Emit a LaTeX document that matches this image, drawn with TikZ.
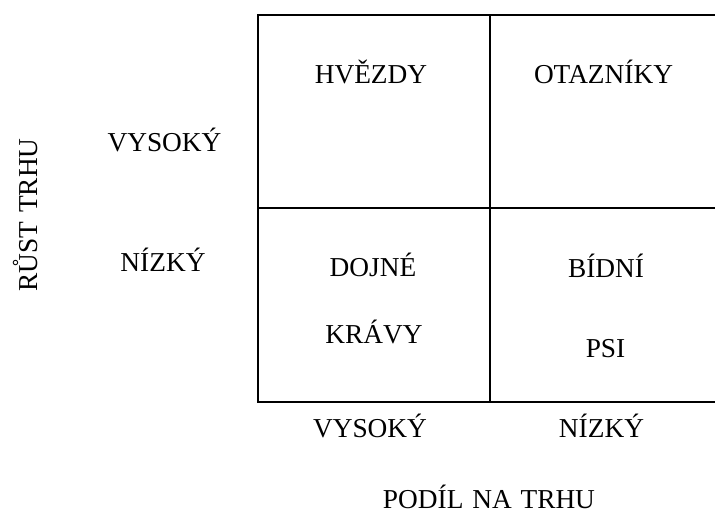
\documentclass[tikz,border=0pt]{standalone}
\usepackage{fontspec}
\setmainfont{Liberation Serif}
\begin{document}
\begin{tikzpicture}[x=0.75pt,y=-0.75pt,
  lbl/.style={anchor=base,inner sep=0pt,font=\fontsize{20.5}{24}\selectfont},
  gridline/.style={line width=1.5pt,line cap=rect}]
\useasboundingbox (0,0) rectangle (715,513);
\clip (0,0) rectangle (715,513);
% grid
\coordinate (tl) at (258.3,15.3);
\coordinate (tr) at (720,15.3);
\coordinate (bl) at (258.3,402);
\coordinate (br) at (720,402);
\coordinate (ml) at (258.3,208);
\coordinate (mr) at (720,208);
\coordinate (mt) at (490,15.3);
\coordinate (mb) at (490,402);
\draw[gridline] (tr) -- (tl) -- (bl) -- (br);
\draw[gridline] (ml) -- (mr);
\draw[gridline] (mt) -- (mb);
% quadrant labels
\node[lbl] (hv) at (371,84) {HVĚZDY};
\node[lbl] (ot) at (603.5,84) {OTAZNÍKY};
\node[lbl] (do) at (373,277) {DOJNÉ};
\node[lbl] (kr) at (374,344) {KRÁVY};
\node[lbl] (bi) at (606,278) {BÍDNÍ};
\node[lbl] (ps) at (605.5,358) {PSI};
% axis labels
\node[lbl] (vy) at (164.5,152) {VYSOKÝ};
\node[lbl] (ni) at (163,272) {NÍZKÝ};
\node[lbl] (vyb) at (370,438) {VYSOKÝ};
\node[lbl] (nib) at (601.5,438) {NÍZKÝ};
\node[lbl] (po) at (489,509) {PODÍL\hspace{1.5pt} NA\hspace{1.5pt} TRHU};
\node[lbl,rotate=90] (ru) at (37,215) {RŮST\hspace{1.5pt} TRHU};
\end{tikzpicture}
\end{document}
